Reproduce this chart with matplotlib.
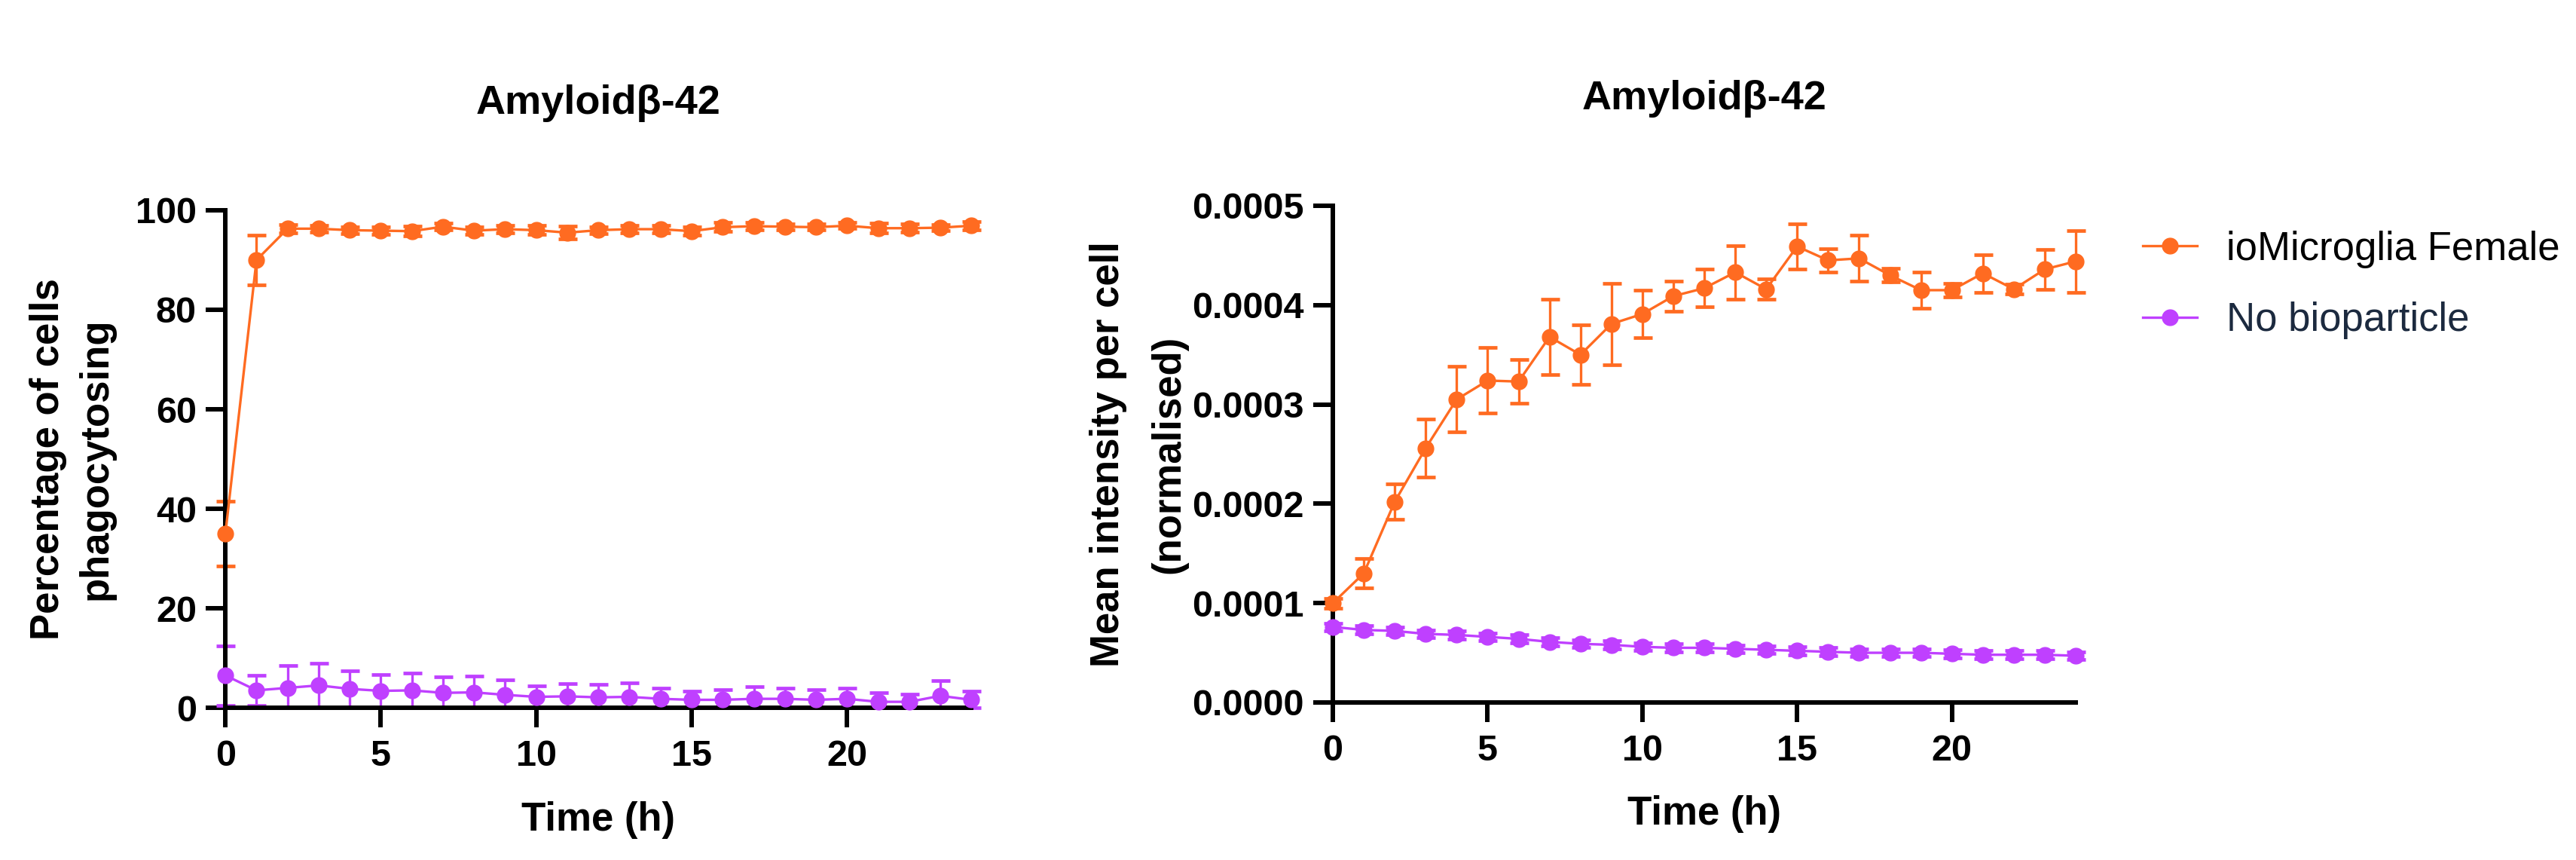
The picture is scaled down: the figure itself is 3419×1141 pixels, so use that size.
import numpy as np
import matplotlib
matplotlib.use("Agg")
import matplotlib.pyplot as plt
from matplotlib.ticker import FormatStrFormatter, MultipleLocator

plt.rcParams['font.family'] = ['Liberation Sans', 'DejaVu Sans']
plt.rcParams['font.weight'] = 'bold'

# ---------------- data ----------------
time_h = list(range(25))
series_names = ['ioMicroglia Female', 'No bioparticle']
title_text = 'Amyloidβ-42'

# Left panel: percentage of cells phagocytosing
pct_female = [35.0, 90.0, 96.3, 96.3, 96.0, 95.9, 95.8, 96.7, 95.9, 96.2, 96.0, 95.5,
              96.0, 96.2, 96.2, 95.8, 96.6, 96.8, 96.7, 96.6, 96.9, 96.4, 96.4, 96.5, 96.9]
pct_female_err = [6.5, 5.0, 0.8, 0.7, 0.7, 0.7, 1.0, 0.7, 0.8, 0.7, 0.9, 1.3,
                  0.7, 0.7, 0.8, 0.8, 0.9, 0.7, 0.6, 0.6, 0.6, 1.0, 0.8, 0.6, 0.8]
pct_nobio = [6.5, 3.5, 4.0, 4.5, 3.8, 3.4, 3.5, 3.0, 3.1, 2.6, 2.2, 2.3,
             2.1, 2.2, 1.8, 1.6, 1.6, 1.8, 1.8, 1.6, 1.8, 1.2, 1.2, 2.4, 1.6]
pct_nobio_err = [6.0, 3.0, 4.5, 4.5, 3.6, 3.3, 3.4, 3.2, 3.3, 3.0, 2.2, 2.5,
                 2.6, 2.8, 2.2, 1.8, 2.0, 2.4, 2.2, 2.0, 2.2, 1.8, 1.6, 3.0, 1.8]

# Right panel: mean intensity per cell (normalised)
mi_female = [1.00e-4, 1.30e-4, 2.02e-4, 2.56e-4, 3.05e-4, 3.24e-4, 3.23e-4, 3.68e-4, 3.50e-4,
             3.81e-4, 3.91e-4, 4.09e-4, 4.17e-4, 4.33e-4, 4.16e-4, 4.59e-4, 4.45e-4, 4.47e-4,
             4.30e-4, 4.15e-4, 4.15e-4, 4.32e-4, 4.16e-4, 4.36e-4, 4.44e-4]
mi_female_err = [0.05e-4, 0.15e-4, 0.18e-4, 0.29e-4, 0.33e-4, 0.33e-4, 0.22e-4, 0.38e-4, 0.30e-4,
                 0.41e-4, 0.24e-4, 0.15e-4, 0.19e-4, 0.27e-4, 0.10e-4, 0.23e-4, 0.12e-4, 0.23e-4,
                 0.07e-4, 0.18e-4, 0.07e-4, 0.19e-4, 0.05e-4, 0.20e-4, 0.31e-4]
mi_nobio = [0.76e-4, 0.73e-4, 0.72e-4, 0.69e-4, 0.68e-4, 0.66e-4, 0.64e-4, 0.61e-4, 0.59e-4,
            0.58e-4, 0.56e-4, 0.55e-4, 0.55e-4, 0.54e-4, 0.53e-4, 0.52e-4, 0.51e-4, 0.50e-4,
            0.50e-4, 0.50e-4, 0.49e-4, 0.48e-4, 0.48e-4, 0.48e-4, 0.47e-4]
mi_nobio_err = [0.04e-4] * 25

x_label = 'Time (h)'
left_ylabel = 'Percentage of cells\nphagocytosing'
right_ylabel = 'Mean intensity per cell\n(normalised)'

# ---------------- style ----------------
ORANGE = '#FF6B21'
PURPLE = '#BF40FF'
LEGEND_TEXT_COLORS = ['#000000', '#1C2A3F']

fig = plt.figure(figsize=(34.19, 11.41), dpi=100)
axL = fig.add_axes([0.0875, 0.177, 0.2896, 0.5785])
axR = fig.add_axes([0.5174, 0.1832, 0.2884, 0.5776])


def draw_series(ax, x, y, err, color, label):
    y = np.asarray(y)
    err = np.asarray(err)
    ymin = ax.get_ylim()[0]
    lower = np.minimum(err, y - ymin)
    cont = ax.errorbar(x, y, yerr=[lower, err], fmt='none', ecolor=color,
                       elinewidth=2.4, capsize=9, capthick=3.4, zorder=3)
    for child in cont.get_children():
        child.set_clip_on(False)
    ax.plot(x, y, color=color, lw=2.4, marker='o', ms=15, clip_on=False,
            zorder=6, label=label)


def style_axes(ax):
    for s in ['top', 'right']:
        ax.spines[s].set_visible(False)
    for s in ['left', 'bottom']:
        ax.spines[s].set_linewidth(4.3)
        ax.spines[s].set_zorder(5)
    ax.tick_params(axis='both', which='major', width=4.3, length=18.5,
                   labelsize=35, direction='out')
    ax.tick_params(axis='x', pad=12)
    ax.tick_params(axis='y', pad=9)
    ax.set_xlim(0, 24)
    ax.xaxis.set_major_locator(MultipleLocator(5))
    for lab in ax.get_xticklabels() + ax.get_yticklabels():
        lab.set_fontweight('bold')
    ax.set_xlabel(x_label, fontsize=38, fontweight='bold', labelpad=26)
    ax.set_title(title_text, fontsize=39, fontweight='bold', pad=92)


# Left panel
axL.set_ylim(0, 100)
axL.yaxis.set_major_locator(MultipleLocator(20))
style_axes(axL)
draw_series(axL, time_h, pct_female, pct_female_err, ORANGE, series_names[0])
draw_series(axL, time_h, pct_nobio, pct_nobio_err, PURPLE, series_names[1])
axL.set_ylabel(left_ylabel, fontsize=38, fontweight='bold', linespacing=1.35)
axL.yaxis.set_label_coords(-0.148, 0.5)

# Right panel
axR.set_ylim(0, 0.0005)
axR.yaxis.set_major_locator(MultipleLocator(0.0001))
axR.yaxis.set_major_formatter(FormatStrFormatter('%.4f'))
style_axes(axR)
draw_series(axR, time_h, mi_female, mi_female_err, ORANGE, series_names[0])
draw_series(axR, time_h, mi_nobio, mi_nobio_err, PURPLE, series_names[1])
axR.set_ylabel(right_ylabel, fontsize=38, fontweight='bold', linespacing=1.8)
axR.yaxis.set_label_coords(-0.195, 0.5)

leg = axR.legend(loc='upper left', bbox_to_anchor=(2844 / 3419, 0.732),
                 bbox_transform=fig.transFigure, frameon=False,
                 prop={'size': 38, 'weight': 'normal'}, handlelength=1.36,
                 handletextpad=0.74, labelspacing=0.84, borderpad=0,
                 borderaxespad=0)
for txt, c in zip(leg.get_texts(), LEGEND_TEXT_COLORS):
    txt.set_color(c)

fig.savefig('out.png', dpi=100)
